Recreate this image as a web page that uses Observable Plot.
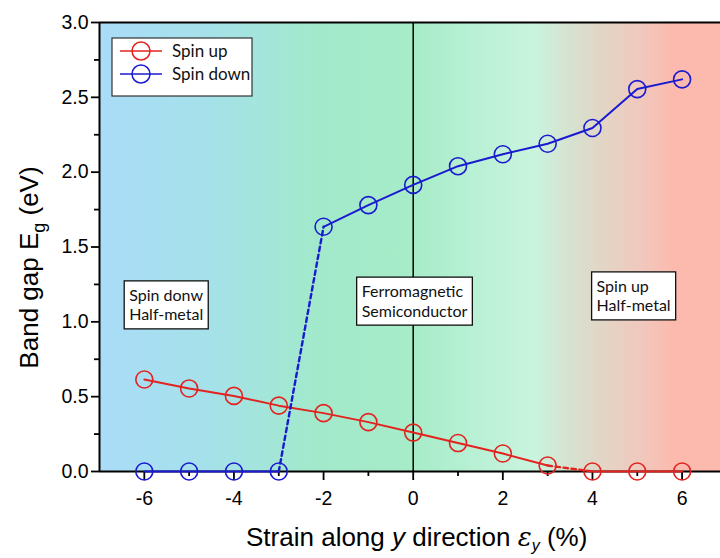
<!DOCTYPE html>
<html><head><meta charset="utf-8">
<script src="https://cdn.jsdelivr.net/npm/d3@7"></script>
<script src="https://cdn.jsdelivr.net/npm/@observablehq/plot@0.6"></script>
<style>html,body{margin:0;padding:0;background:#fff;overflow:hidden}</style>
</head><body><div id="chart"></div>
<script>
// ---- data ----
const strain = [-6,-5,-4,-3,-2,-1,0,1,2,3,4,5,6];
const spinUp = [0.615,0.555,0.505,0.44,0.39,0.33,0.26,0.19,0.12,0.04,0,0,0];
const spinDown = [0,0,0,0,1.635,1.78,1.915,2.04,2.12,2.19,2.295,2.555,2.62];
const seriesNames = ["Spin up","Spin down"];
const dashedFrom = [3, -3]; // strain where the dashed (band-closing) segment starts, per series
const xTicks = [-6,-4,-2,0,2,4,6];
const xMinorTicks = [-5,-3,-1,1,3,5];
const yTicks = [0,0.5,1,1.5,2,2.5,3];
const yMinorTicks = [0.25,0.75,1.25,1.75,2.25,2.75];
const regionLabels = [["Spin donw","Half-metal"],["Ferromagnetic","Semiconductor"],["Spin up","Half-metal"]];
const regionX = [-5.5, 0.04, 4.93];
const regionY = [1.11, 1.135, 1.17];
const xDomain = [-7, 6.857];
const yDomain = [0, 3];

// ---- styles ----
const seriesColors = ["#e3231f","#1a1ad0"];
const bgStops = [[-7,"#aadcf8"],[-4.6,"#a5e1ea"],[-2.2,"#a2e9cc"],[0,"#a6ecc8"],[1.5,"#baf1d6"],[2.7,"#c9f4de"],[3.5,"#d6e2d0"],[4.2,"#e2d6c6"],[5.1,"#f1c8bd"],[5.8,"#fcbaae"]];
const FONT = "Liberation Sans, Arial, sans-serif";
const BOXFONT = "Lato, 'Open Sans', sans-serif";

const rows = seriesNames.flatMap((s, i) =>
  strain.map((x, j) => ({series: s, x, y: (i === 0 ? spinUp : spinDown)[j], k: i})));
const solidA = rows.filter(d => d.x <= dashedFrom[d.k]);
const dashed = rows.filter(d => d.x >= dashedFrom[d.k] && d.x <= dashedFrom[d.k] + 1);
const solidB = rows.filter(d => d.x >= dashedFrom[d.k] + 1);

function background(index, {x}, values, dims) {
  const g = d3.create("svg:g");
  const x0 = x(xDomain[0]), x1 = x(xDomain[1]);
  const grad = g.append("defs").append("linearGradient")
    .attr("id", "bggrad").attr("gradientUnits", "userSpaceOnUse")
    .attr("x1", x0).attr("x2", x1).attr("y1", 0).attr("y2", 0);
  for (const [v, c] of bgStops) grad.append("stop").attr("offset", (x(v) - x0) / (x1 - x0)).attr("stop-color", c);
  g.append("rect").attr("x", dims.marginLeft).attr("y", dims.marginTop)
    .attr("width", dims.width - dims.marginLeft - dims.marginRight)
    .attr("height", dims.height - dims.marginTop - dims.marginBottom)
    .attr("fill", "url(#bggrad)");
  return g.node();
}

function measure(text, font) {
  const ctx = (measure.c ||= document.createElement("canvas").getContext("2d"));
  ctx.font = font; return ctx.measureText(text).width;
}

function regionBoxes(index, {x, y}) {
  const g = d3.create("svg:g");
  const fs = 16, lh = 19.5;
  regionLabels.forEach((lines, i) => {
    const cx = x(regionX[i]), cy = y(regionY[i]);
    const w = Math.max(...lines.map(t => measure(t, `${fs}px Lato`))) + 10;
    const h = lines.length * lh + 9;
    g.append("rect").attr("x", cx - w / 2).attr("y", cy - h / 2).attr("width", w).attr("height", h)
      .attr("fill", "#fff").attr("stroke", "#111").attr("stroke-width", 1.3);
    const t = g.append("text").attr("font-family", BOXFONT).attr("font-size", fs).attr("fill", "#111")
      .attr("text-anchor", "start");
    lines.forEach((line, j) => t.append("tspan").attr("x", cx - w / 2 + 5)
      .attr("y", cy - h / 2 + 4.5 + lh * (j + 0.5)).attr("dy", "0.36em").text(line));
  });
  return g.node();
}

function legend(index, scales, values, dims) {
  const g = d3.create("svg:g");
  const lx = dims.marginLeft + 13, ly = dims.marginTop + 16;
  g.append("rect").attr("x", lx).attr("y", ly).attr("width", 140).attr("height", 58)
    .attr("fill", "#fff").attr("stroke", "#333").attr("stroke-width", 1.2);
  seriesNames.forEach((name, i) => {
    const yy = ly + 13 + i * 23;
    g.append("line").attr("x1", lx + 8).attr("x2", lx + 50).attr("y1", yy).attr("y2", yy)
      .attr("stroke", seriesColors[i]).attr("stroke-width", 1.5);
    g.append("circle").attr("cx", lx + 29).attr("cy", yy).attr("r", 9)
      .attr("fill", "none").attr("stroke", seriesColors[i]).attr("stroke-width", 1.5);
    g.append("text").attr("x", lx + 60).attr("y", yy).attr("dy", "0.36em").attr("text-anchor", "start")
      .attr("font-family", BOXFONT).attr("font-size", 17).attr("fill", "#111").text(name);
  });
  return g.node();
}

function titles(index, {x, y}, values, dims) {
  const g = d3.create("svg:g").attr("font-family", FONT).attr("fill", "#000");
  const tx = g.append("text").attr("x", x(0) + 4).attr("y", dims.height - 12)
    .attr("text-anchor", "middle").attr("font-size", 26);
  tx.append("tspan").text("Strain along ");
  tx.append("tspan").attr("font-style", "italic").text("y");
  tx.append("tspan").text(" direction ");
  tx.append("tspan").attr("font-style", "italic").attr("font-family", "DejaVu Serif, serif").text("ε");
  tx.append("tspan").attr("font-style", "italic").attr("font-size", 16).attr("dy", 5).text("y");
  tx.append("tspan").attr("dy", -5).text(" (%)");
  const ty = g.append("text").attr("transform", `translate(38,${(dims.marginTop + dims.height - dims.marginBottom) / 2 + 21}) rotate(-90)`)
    .attr("text-anchor", "middle").attr("font-size", 26);
  ty.append("tspan").text("Band gap E");
  ty.append("tspan").attr("font-size", 18).attr("dy", 7).text("g");
  ty.append("tspan").attr("dy", -7).text(" (eV)");
  return g.node();
}

const plot = Plot.plot({
  width: 720, height: 558,
  marginLeft: 99, marginRight: 0, marginTop: 22, marginBottom: 87,
  style: {fontFamily: FONT, fontSize: "19px", color: "#000", background: "#fff", overflow: "visible"},
  x: {domain: xDomain},
  y: {domain: yDomain},
  color: {domain: seriesNames, range: seriesColors},
  marks: [
    background,
    Plot.ruleX([0], {stroke: "#000", strokeWidth: 1.5}),
    Plot.ruleY([yDomain[1]], {stroke: "#000", strokeWidth: 2}),
    Plot.ruleX([xDomain[0]], {stroke: "#000", strokeWidth: 2}),
    Plot.ruleY([0], {stroke: "#000", strokeWidth: 2}),
    Plot.axisX({ticks: xTicks, tickSize: 9, tickPadding: 11, tickFormat: d => String(d), label: null, strokeWidth: 1.8, fontSize: 19.5}),
    Plot.axisX({ticks: xMinorTicks, tickSize: 5, tickFormat: () => "", label: null, strokeWidth: 1.8}),
    Plot.axisY({ticks: yTicks, tickSize: 8, tickPadding: 3, tickFormat: d3.format(".1f"), label: null, strokeWidth: 1.8, fontSize: 19.5}),
    Plot.axisY({ticks: yMinorTicks, tickSize: 5, tickFormat: () => "", label: null, strokeWidth: 1.8}),
    Plot.line(solidA, {x: "x", y: "y", z: "series", stroke: "series", strokeWidth: 2}),
    Plot.line(solidB, {x: "x", y: "y", z: "series", stroke: "series", strokeWidth: 2}),
    Plot.line(dashed, {x: "x", y: "y", z: "series", stroke: "series", strokeWidth: 2.4, strokeDasharray: "4.5,3.5"}),
    Plot.dot(rows, {x: "x", y: "y", stroke: "series", r: 8.5, strokeWidth: 1.6, fill: "none"}),
    regionBoxes,
    legend,
    titles
  ]
});
document.getElementById("chart").append(plot);
</script>
</body></html>
